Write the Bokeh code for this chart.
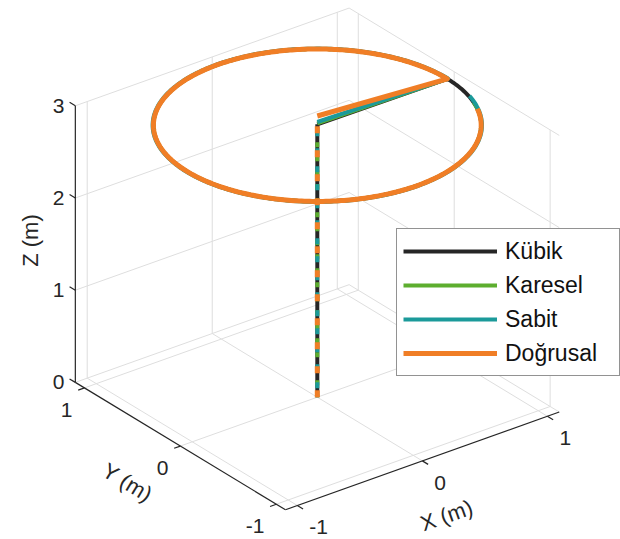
import numpy as np
from bokeh.plotting import figure
from bokeh.models import Range1d, Legend, LegendItem
from bokeh.embed import file_html
from bokeh.resources import INLINE
from bokeh.core.properties import value

# ---------------- data (metres) ----------------
series_names = ["Kübik", "Karesel", "Sabit", "Doğrusal"]
series_colors = ["#262626", "#5DAE2F", "#1B9A9A", "#F07E26"]
series_widths = [4, 4, 4, 5]
climb_top_z = [2.96, 2.97, 2.985, 3.05]    # end of vertical climb at (0, 0)
circle_z = [2.95, 2.95, 2.95, 2.95]        # height of the circular path
circle_radius = [1.04, 1.04, 1.045, 1.04]
circle_end_deg = [360, 340, 345, 335]      # sweep of the circle
climb_dash = ["solid", "5 9", "6 12", "7 17"]
climb_dash_offset = [0, 2, 9, 0]

x_ticks = [-1, 0, 1]
y_ticks = [-1, 0, 1]
z_ticks = [0, 1, 2, 3]
x_lim = [-1.095, 1.095]
y_lim = [-1.095, 1.095]
z_lim = [0.0, 3.0]

# ---------------- projection (view az = -37.5) ----------------
AZ = np.deg2rad(37.5)
CA, SA = np.cos(AZ), np.sin(AZ)
H_SCALE, V_SCALE, Z_SCALE = 157.6, 73.3, 92.2
OX, OY = 316.8, 396.7


def proj(x, y, z):
    x = np.asarray(x, float)
    y = np.asarray(y, float)
    z = np.asarray(z, float)
    sx = OX + H_SCALE * (CA * x - SA * y)
    sy = OY - V_SCALE * (SA * x + CA * y) - Z_SCALE * z
    return sx, sy


def seg(p0, p1):
    a = proj(*p0)
    b = proj(*p1)
    return [float(a[0]), float(b[0])], [float(a[1]), float(b[1])]


W, H = 620, 539
p = figure(width=W, height=H, x_range=Range1d(0, W), y_range=Range1d(H, 0),
           output_backend="svg", toolbar_location=None, min_border=0,
           x_axis_location=None, y_axis_location=None)
p.grid.visible = False
p.outline_line_color = None
p.background_fill_color = "white"
p.border_fill_color = "white"

xmin, xmax = x_lim
ymin, ymax = y_lim
zmin, zmax = z_lim

# ---------------- grid ----------------
gx, gy = [], []
for xv in x_ticks:
    for a, b in [((xv, ymin, zmin), (xv, ymax, zmin)), ((xv, ymax, zmin), (xv, ymax, zmax))]:
        s = seg(a, b); gx.append(s[0]); gy.append(s[1])
for yv in y_ticks:
    for a, b in [((xmin, yv, zmin), (xmax, yv, zmin)), ((xmax, yv, zmin), (xmax, yv, zmax))]:
        s = seg(a, b); gx.append(s[0]); gy.append(s[1])
for zv in z_ticks:
    for a, b in [((xmin, ymax, zv), (xmax, ymax, zv)), ((xmax, ymin, zv), (xmax, ymax, zv))]:
        s = seg(a, b); gx.append(s[0]); gy.append(s[1])
p.multi_line(gx, gy, line_color="#DEDEDE", line_width=1)

# ---------------- axes ----------------
AX_COL = "#262626"
ax_x, ax_y = [], []
for a, b in [((xmin, ymax, zmin), (xmin, ymax, zmax)),
             ((xmin, ymax, zmin), (xmin, ymin, zmin)),
             ((xmin, ymin, zmin), (xmax, ymin, zmin))]:
    s = seg(a, b); ax_x.append(s[0]); ax_y.append(s[1])
for zv in z_ticks:
    s = seg((xmin, ymax, zv), (xmin, ymax + 0.06, zv)); ax_x.append(s[0]); ax_y.append(s[1])
for yv in y_ticks:
    s = seg((xmin, yv, zmin), (xmin - 0.05, yv, zmin)); ax_x.append(s[0]); ax_y.append(s[1])
for xv in x_ticks:
    s = seg((xv, ymin, zmin), (xv, ymin - 0.06, zmin)); ax_x.append(s[0]); ax_y.append(s[1])
p.multi_line(ax_x, ax_y, line_color=AX_COL, line_width=1.2)

FONT = value("Liberation Sans")
TICK_FS = "21px"

# z tick labels
zx, zy = proj([xmin] * len(z_ticks), [ymax] * len(z_ticks), z_ticks)
p.text(x=list(zx - 11), y=list(zy), text=[str(v) for v in z_ticks], text_font=FONT,
       text_font_size=TICK_FS, text_align="right", text_baseline="middle", text_color=AX_COL)
# y tick labels
yx, yy = proj([xmin] * len(y_ticks), y_ticks, [zmin] * len(y_ticks))
p.text(x=list(yx - 12), y=list(yy + 22), text=[str(v) for v in y_ticks], text_font=FONT,
       text_font_size=TICK_FS, text_align="right", text_baseline="middle", text_color=AX_COL)
# x tick labels
xx, xy = proj(x_ticks, [ymin] * len(x_ticks), [zmin] * len(x_ticks))
p.text(x=list(xx + 12), y=list(xy + 22), text=[str(v) for v in x_ticks], text_font=FONT,
       text_font_size=TICK_FS, text_align="left", text_baseline="middle", text_color=AX_COL)

# axis titles
ya = proj([xmin, xmin], [ymax, ymin], [0, 0])
y_ang = -np.arctan2(ya[1][1] - ya[1][0], ya[0][1] - ya[0][0])
xa = proj([xmin, xmax], [ymin, ymin], [0, 0])
x_ang = -np.arctan2(xa[1][1] - xa[1][0], xa[0][1] - xa[0][0])
p.text(x=[30], y=[240], text=["Z (m)"], angle=np.pi / 2, text_font=FONT, text_font_size="22px",
       text_align="center", text_baseline="middle", text_color=AX_COL)
p.text(x=[127], y=[482], text=["Y (m)"], angle=float(y_ang), text_font=FONT, text_font_size="22px",
       text_align="center", text_baseline="middle", text_color=AX_COL)
p.text(x=[446], y=[515], text=["X (m)"], angle=float(x_ang), text_font=FONT, text_font_size="22px",
       text_align="center", text_baseline="middle", text_color=AX_COL)

# ---------------- trajectories ----------------
for i in range(len(series_names)):
    cx, cy = proj([0, 0], [0, 0], [0, climb_top_z[i]])
    p.line(list(cx), list(cy), line_color=series_colors[i], line_width=series_widths[i],
           line_dash=climb_dash[i], line_dash_offset=climb_dash_offset[i])

legend_items = []
for i in range(len(series_names)):
    th = np.deg2rad(np.linspace(0, circle_end_deg[i], 361))
    X = np.concatenate([[0.0], circle_radius[i] * np.cos(th)])
    Y = np.concatenate([[0.0], circle_radius[i] * np.sin(th)])
    Z = np.concatenate([[climb_top_z[i]], np.full(th.size, circle_z[i])])
    sx, sy = proj(X, Y, Z)
    r = p.line(list(sx), list(sy), line_color=series_colors[i], line_width=series_widths[i],
               line_join="round")
    legend_items.append(LegendItem(label=series_names[i], renderers=[r]))

legend = Legend(items=legend_items, location=(396, 163), glyph_width=94, glyph_height=32,
                spacing=2, padding=6, margin=0, label_standoff=8, label_width=108,
                label_text_font="Liberation Sans", label_text_font_size="23px",
                label_text_color="#111111", label_height=32,
                border_line_color="#262626", border_line_width=1,
                background_fill_color="white", background_fill_alpha=1.0)
p.add_layout(legend)

open("out.html", "w").write(file_html(p, INLINE))
